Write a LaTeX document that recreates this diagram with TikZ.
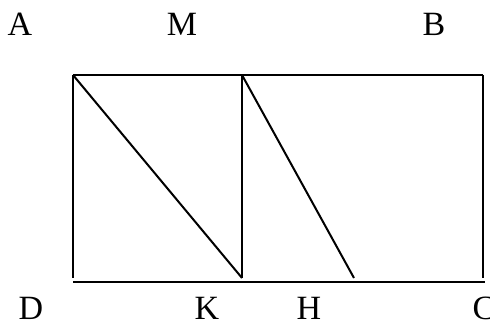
\documentclass[tikz,border=0pt]{standalone}
\usepackage{fontspec}
\setmainfont{Liberation Serif}
\usetikzlibrary{positioning}

\begin{document}
\begin{tikzpicture}[
    x=0.5pt, y=-0.5pt,
    font=\fontsize{17}{19}\selectfont,
    seg/.style={line width=1pt},
    lbl/.style={inner sep=0pt},
]
\useasboundingbox (0,0) rectangle (490,324);

\coordinate (a) at (73,75);
\coordinate (m) at (242,75);
\coordinate (b) at (483,75);
\coordinate (bb) at (483,278);
\coordinate (dd) at (73,278);
\coordinate (kk) at (242,278);
\coordinate (hh) at (354,278);
\coordinate (d) at (73,282);
\coordinate (c) at (485,282);

\node[lbl] (lA) at (20,24) {A};
\node[lbl] (lM) at (182,24) {M};
\node[lbl] (lB) at (434,24) {B};
\node[lbl] (lD) at (31,308) {D};
\node[lbl] (lK) at (207,308) {K};
\node[lbl] (lH) at (309,308) {H};
\node[lbl] (lC) at (484,308) {C};

\draw[seg] (a) -- (b);
\draw[seg] (d) -- (c);
\draw[seg] (a) -- (dd);
\draw[seg] (m) -- (kk);
\draw[seg] (b) -- (bb);
\draw[seg] (a) -- (kk);
\draw[seg] (m) -- (hh);
\end{tikzpicture}
\end{document}
